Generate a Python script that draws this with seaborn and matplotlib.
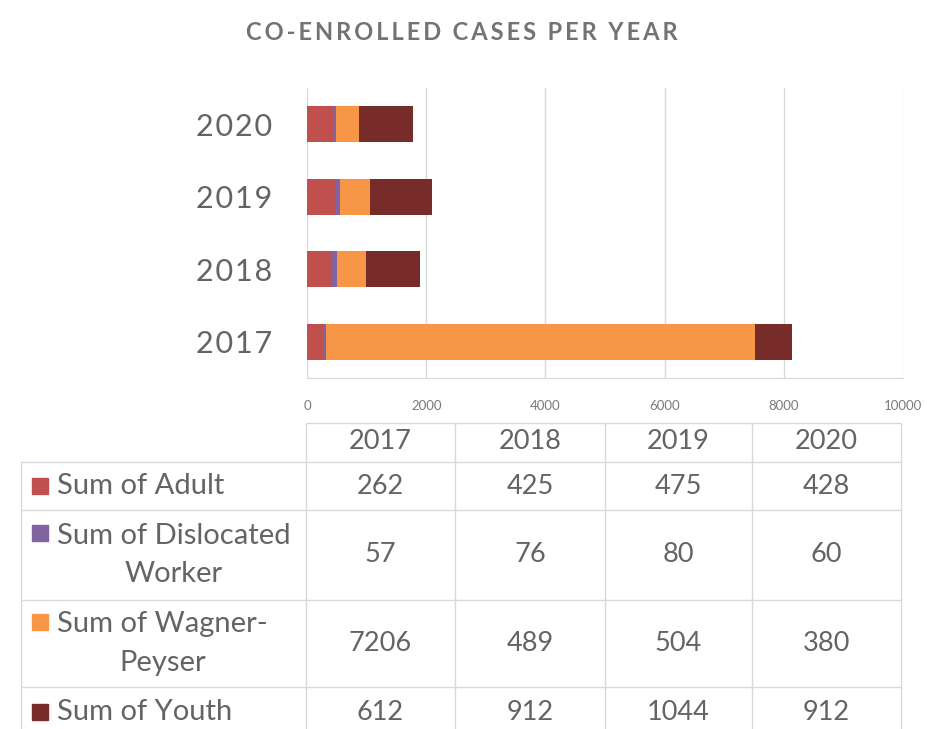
import pandas as pd
import matplotlib.pyplot as plt
import seaborn as sns
from matplotlib.patches import Rectangle

years = ['2017', '2018', '2019', '2020']
series = ['Sum of Adult', 'Sum of Dislocated Worker', 'Sum of Wagner-Peyser', 'Sum of Youth']
table_labels = ['Sum of Adult', 'Sum of Dislocated\nWorker', 'Sum of Wagner-\nPeyser', 'Sum of Youth']
adult = [262, 425, 475, 428]
dislocated = [57, 76, 80, 60]
wagner = [7206, 489, 504, 380]
youth = [612, 912, 1044, 912]
colors = ['#C0504D', '#8064A2', '#F79646', '#772C2A']
xticks = [0, 2000, 4000, 6000, 8000, 10000]
title = 'CO-ENROLLED CASES PER YEAR'

values = [adult, dislocated, wagner, youth]
df = pd.DataFrame({'year': years})
for name, v in zip(series, values):
    df[name] = v
# cumulative sums so the stacks can be layered from the back
cum = df[series].cumsum(axis=1)
cum['year'] = years

sns.set_style('white')
plt.rcParams['font.family'] = ['Lato', 'DejaVu Sans']
grey = '#646464'

fig = plt.figure(figsize=(9.27, 7.29), dpi=100)
ax = fig.add_axes([307 / 927, 1 - 378 / 729, 596 / 927, 290 / 729])

order = ['2020', '2019', '2018', '2017']
for name, c in reversed(list(zip(series, colors))):
    sns.barplot(data=cum, x=name, y='year', order=order, color=c,
                orient='h', width=0.5, saturation=1, linewidth=0,
                ax=ax, zorder=3)

ax.set_xlim(0, 10000)
ax.set_xticks(xticks)
ax.set_xticklabels([str(t) for t in xticks], fontsize=9.5, color='#7a7a7a')
ax.set_xlabel('')
ax.set_ylabel('')
ax.tick_params(axis='x', length=0, pad=16)
ax.tick_params(axis='y', length=0, pad=25)
ax.set_yticks(range(4))
ax.set_yticklabels(['\u200a'.join(y) for y in order], fontsize=22, color=grey)
ax.grid(axis='x', color='#D9D9D9', linewidth=1, zorder=0)
for s in ['top', 'right', 'left']:
    ax.spines[s].set_visible(False)
ax.spines['bottom'].set_color('#D9D9D9')

spaced = '  '.join('\u2009'.join(w) for w in title.split(' '))
fig.text(462 / 927, 1 - 33 / 729, spaced, ha='center', va='center',
         fontsize=17, fontweight='bold', color='#737373')

# data table under the chart
tab = fig.add_axes([0, 0, 1, 1], zorder=-1)
tab.set_xlim(0, 927)
tab.set_ylim(729, 0)
tab.axis('off')
line_c = '#D9D9D9'
col_x = [306, 455, 605, 752, 901]
row_y = [462, 510, 600, 687, 740]
tab.hlines(423, col_x[0], col_x[-1], color=line_c, lw=1)
for y in row_y:
    tab.hlines(y, 21, col_x[-1], color=line_c, lw=1)
for x in col_x:
    tab.vlines(x, 423, 740, color=line_c, lw=1)
tab.vlines(21, 462, 740, color=line_c, lw=1)

centers = [(col_x[i] + col_x[i + 1]) / 2 for i in range(4)]
for cx, yr in zip(centers, years):
    tab.text(cx, 441, yr, ha='center', va='center', fontsize=19.5, color=grey)
row_c = [(row_y[i] + row_y[i + 1]) / 2 for i in range(3)] + [712]
for j, (lab, v, c) in enumerate(zip(table_labels, values, colors)):
    yc = row_c[j]
    first = yc - 22 if '\n' in lab else yc
    tab.add_patch(Rectangle((32, first - 8), 16, 16, color=c))
    tab.text(57, yc, lab, ha='left', va='center', multialignment='center',
             fontsize=21, color=grey, linespacing=1.6)
    for cx, val in zip(centers, v):
        tab.text(cx, yc, str(val), ha='center', va='center', fontsize=19.5, color=grey)

fig.savefig('out.png', dpi=100)
